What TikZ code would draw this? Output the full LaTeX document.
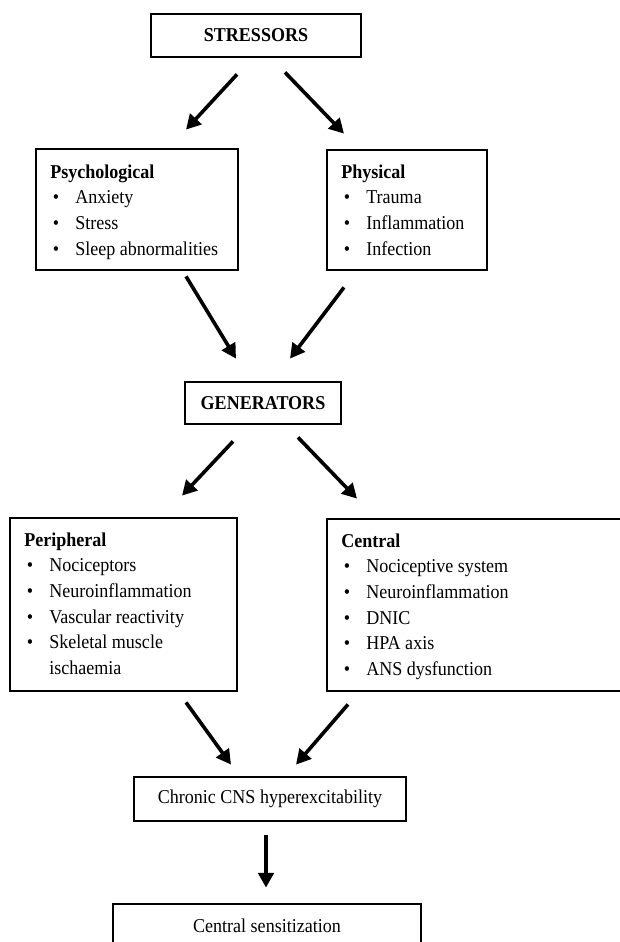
\documentclass[tikz,border=0pt]{standalone}
\usepackage{fontspec}
\setmainfont{Liberation Serif}[FakeStretch=0.92]
\usetikzlibrary{arrows.meta, positioning, calc}

\newcommand{\itm}{\hspace*{2pt}\makebox[16.8pt][l]{\textbullet}}
\newcommand{\contd}{\hspace*{18.8pt}}

\begin{document}
\begin{tikzpicture}[x=0.75pt, y=-0.75pt,
  box/.style 2 args={draw, line width=2.1pt, inner sep=0pt,
    minimum width={#1*0.75pt}, minimum height={#2*0.75pt},
    font=\fontsize{14.7}{19.3}\selectfont},
  lst/.style={anchor=base west, inner sep=0pt, font=\fontsize{14.7}{19.3}\selectfont},
  arr/.style={line width=2.7pt, -{Triangle[length=11pt, width=11.5pt]}}]
\useasboundingbox (0,0) rectangle (619,942);

% Stressors
\node[box={210}{43}] (stress) at (256,35.5) {\textbf{STRESSORS}};
\node[box={202}{121}] (psych) at (137,209.5) {};
\node[box={160}{120}] (phys) at (407,210) {};
\node[lst] (psychtxt) at (50,178) {\begin{tabular}[t]{@{}l@{}}
  \textbf{Psychological}\\ \itm Anxiety\\ \itm Stress\\ \itm Sleep abnormalities
  \end{tabular}};
\node[lst] (phystxt) at (341,178) {\begin{tabular}[t]{@{}l@{}}
  \textbf{Physical}\\ \itm Trauma\\ \itm Inflammation\\ \itm Infection
  \end{tabular}};

% Generators
\node[box={156}{42}] (gen) at (263,403) {\textbf{GENERATORS}};
\node[box={227}{173}] (periph) at (123.5,604.5) {};
\node[box={298}{172}] (central) at (476,605) {};
\node[lst] (periphtxt) at (24,546) {\begin{tabular}[t]{@{}l@{}}
  \textbf{Peripheral}\\ \itm Nociceptors\\ \itm Neuroinflammation\\
  \itm Vascular reactivity\\ \itm Skeletal muscle\\ \contd ischaemia
  \end{tabular}};
\node[lst] (centraltxt) at (341,547) {\begin{tabular}[t]{@{}l@{}}
  \textbf{Central}\\ \itm Nociceptive system\\ \itm Neuroinflammation\\
  \itm DNIC\\ \itm HPA axis\\ \itm ANS dysfunction
  \end{tabular}};

% Outcome
\node[box={272}{44}] (chronic) at (270,799) {Chronic CNS hyperexcitability};
\node[box={308}{44}] (sens) at (267,926) {Central sensitization};

% Arrows
\draw[arr] ($(stress.south)+(-19,16)$) -- ($(psych.north)+(49,-18)$);
\draw[arr] ($(stress.south)+(29,14)$) -- ($(phys.north)+(-63,-15)$);
\draw[arr] ($(psych.south)+(49,5)$) -- ($(gen.north)+(-27,-22)$);
\draw[arr] ($(phys.south)+(-63,16)$) -- ($(gen.north)+(27,-22)$);
\draw[arr] ($(gen.south)+(-30,16)$) -- ($(periph.north)+(58.5,-21)$);
\draw[arr] ($(gen.south)+(35,12)$) -- ($(central.north)+(-119,-19)$);
\draw[arr] ($(periph.south)+(62.5,10)$) -- ($(chronic.north)+(-39,-11)$);
\draw[arr] ($(central.south)+(-128,12)$) -- ($(chronic.north)+(26,-11)$);
\draw[arr] ($(chronic.south)+(-4,13)$) -- ($(sens.north)+(-1,-15)$);
\end{tikzpicture}
\end{document}
